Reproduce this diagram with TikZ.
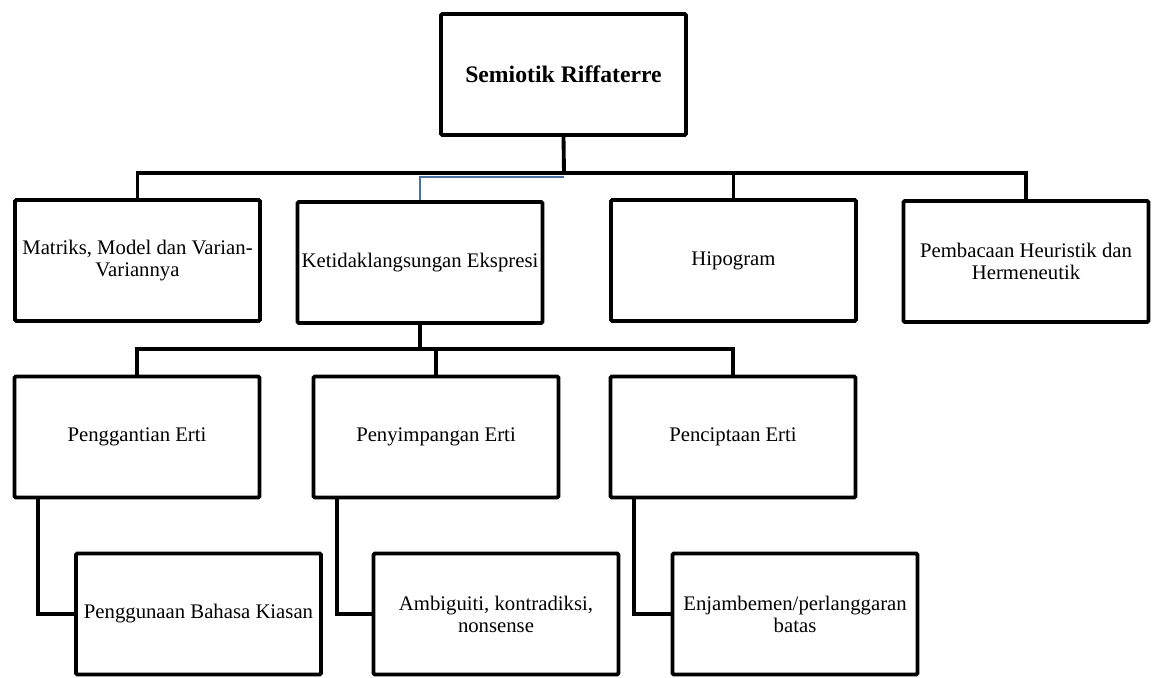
\documentclass[tikz,border=0pt]{standalone}
\usepackage{fontspec}
\setmainfont{Liberation Serif}
\definecolor{linkblue}{HTML}{4A6FA5}

\begin{document}
\begin{tikzpicture}[x=0.02cm, y=-0.02cm,
      every node/.style={draw, line width=2.2pt, rounded corners=0.8pt,
        minimum width=4.9cm, minimum height=2.42cm, inner sep=0pt,
        align=center, font=\fontsize{11.8}{12.6}\selectfont},
      link/.style={line width=2.2pt},
      bluelink/.style={draw=linkblue, line width=1.5pt}
    ]
    \useasboundingbox (0,0) rectangle (1152,677);

    % top box
    \node (SR) at (563.5,74.5) {\fontsize{13.5}{15}\selectfont\bfseries Semiotik Riffaterre};

    % first level
    \node (M1) at (137.5,260.5) {Matriks, Model dan Varian-\\Variannya};
    \node (K1) at (420,262.5) {Ketidaklangsungan Ekspresi};
    \node (H1) at (733.5,260.5) {Hipogram};
    \node (P1) at (1026,261.5) {Pembacaan Heuristik dan\\Hermeneutik};

    % second level
    \node (G2) at (137,437) {Penggantian Erti};
    \node (S2) at (436,437) {Penyimpangan Erti};
    \node (C2) at (733,437) {Penciptaan Erti};

    % third level
    \node (G3) at (198.5,614) {Penggunaan Bahasa Kiasan};
    \node (S3) at (496,614) {Ambiguiti, kontradiksi,\\nonsense};
    \node (C3) at (795,614) {Enjambemen/perlanggaran\\batas};

    % buses
    \coordinate (B1) at (564,173);
    \coordinate (B1b) at (564,177);
    \coordinate (B2) at (420,349);

    \draw[bluelink] (B1b) -| (K1.north);
    \draw[link] (SR.south) -- (B1);
    \draw[link] (M1.north) |- (B1) -| (P1.north);
    \draw[link] (H1.north) -- (H1.north |- B1);

    \draw[link] (K1.south) -- (B2);
    \draw[link] (G2.north) |- (B2) -| (C2.north);
    \draw[link] (S2.north) -- (S2.north |- B2);

    \draw[link] ([xshift=0.5cm]G2.south west) |- (G3.west);
    \draw[link] ([xshift=0.5cm]S2.south west) |- (S3.west);
    \draw[link] ([xshift=0.5cm]C2.south west) |- (C3.west);

\end{tikzpicture}
\end{document}
